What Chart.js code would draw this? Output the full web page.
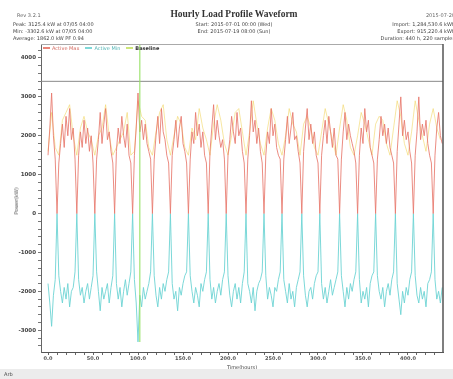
<!DOCTYPE html>
<html>
<head>
<meta charset="utf-8">
<script src="https://cdn.jsdelivr.net/npm/chart.js@4.4.1/dist/chart.umd.min.js"></script>
<style>
  html, body { margin: 0; padding: 0; background: #fff; }
  #wrap { position: relative; width: 453px; height: 379px; overflow: hidden; font-family: "DejaVu Sans", sans-serif; color: #333; }
  #c { position: absolute; left: 0; top: 0; }
  .t { position: absolute; white-space: nowrap; font-size: 5px; line-height: 6px; color: #444; }
  .l { left: 13px; }
  .r { right: -2px; text-align: right; }
  .m { left: 0; width: 468px; text-align: center; }
  #title { font-family: "Liberation Serif", serif; font-weight: bold; font-size: 9.5px; line-height: 10px; color: #333; }
  #legend { position: absolute; left: 41px; top: 44px; height: 7px; display: flex; align-items: center; font-size: 5px; line-height: 6px; }
  #legend span.sw { display: inline-block; width: 7px; height: 2px; margin: 0 2px 0 2px; vertical-align: middle; }
  #legend .it { margin-right: 4px; }
  #status { position: absolute; left: 0; top: 369px; width: 453px; height: 10px; background: #ececec; }
  #status .t { left: 4px; top: 2px; }
</style>
</head>
<body>
<div id="wrap">
  <canvas id="c" width="453" height="379"></canvas>

  <div class="t" style="left:17px; top:12px; color:#666;">Rev 3.2.1</div>
  <div class="t l" style="top:21px;">Peak: 3125.4 kW at 07/05 04:00</div>
  <div class="t l" style="top:28px;">Min: -3302.6 kW at 07/05 04:00</div>
  <div class="t l" style="top:35px;">Average: 1862.0 kW  PF 0.94</div>

  <div class="t m" id="title" style="top:9px;">Hourly Load Profile Waveform</div>
  <div class="t m" style="top:21px;">Start: 2015-07-01 00:00 (Wed)</div>
  <div class="t m" style="top:28px;">End: 2015-07-19 08:00 (Sun)</div>

  <div class="t r" style="top:12px; color:#666;">2015-07-20</div>
  <div class="t r" style="top:21px;">Import: 1,284,530.6 kWh</div>
  <div class="t r" style="top:28px;">Export: 915,220.4 kWh</div>
  <div class="t r" style="top:35px;">Duration: 440 h, 220 samples</div>

  <div id="legend">
    <div class="it" style="color:#d46a60;"><span class="sw" style="background:#ea8478;"></span>Active Max</div>
    <div class="it" style="color:#4fb3b3;"><span class="sw" style="background:#7fd8d8;"></span>Active Min</div>
    <div class="it" style="color:#333; font-weight:bold;"><span class="sw" style="background:#cde67a;"></span>Baseline</div>
  </div>

  <div class="t" style="top:201px; transform: translate(-50%,-50%) rotate(-90deg); transform-origin: center; left:16px;">Power(kW)</div>
  <div class="t" style="left:242px; top:364px; transform: translateX(-50%);">Time(hours)</div>

  <div id="status"><div class="t">Arb</div></div>
</div>

<script>
// Sampling interval of the load record, in hours
const sampleStep = 2;

// Axis tick values
const yTickValues = [4000, 3000, 2000, 1000, 0, -1000, -2000, -3000];
const xTickValues = [0, 50, 100, 150, 200, 250, 300, 350, 400];

// Maximum active power per sample (kW)
const activeMax = [
  1500, 2200, 3100, 2000, 1400, 0,
  1300, 1800, 2300, 1700, 2500, 2000, 2700, 1900, 2200, 1400, 0,
  1500, 2100, 1700, 2400, 1800, 2200, 1600, 2000, 1300, 0,
  1400, 1900, 2600, 1800, 2300, 2700, 1900, 2100, 1600, 1300, 0,
  1600, 2200, 1800, 2500, 2000, 1700, 2300, 1500, 1300, 0,
  1500, 2200, 3100, 2100, 2400, 1900, 2300, 1800, 1600, 1400, 0,
  1400, 2000, 2500, 1800, 2700, 2100, 1900, 1500, 1300, 0,
  1500, 1900, 2400, 1700, 2200, 2500, 1800, 1600, 1300, 0,
  1400, 2100, 1800, 2600, 2000, 2300, 1700, 2100, 1500, 1300, 0,
  1600, 2200, 2800, 1900, 2400, 2000, 1700, 1900, 1400, 0,
  1500, 1900, 2500, 2100, 1800, 2600, 2000, 2200, 1600, 1300, 0,
  1400, 2000, 2900, 2100, 2400, 1800, 2200, 1600, 1300, 0,
  1500, 2100, 1800, 2700, 2000, 2300, 1700, 1500, 1400, 0,
  1400, 1900, 2500, 1800, 2200, 2600, 1900, 2000, 1600, 1300, 0,
  1600, 2200, 2700, 1900, 2300, 1800, 2100, 1500, 1300, 0,
  1500, 2000, 2400, 1800, 2500, 2100, 1700, 2200, 1500, 1400, 0,
  1400, 2100, 2600, 1900, 2300, 2000, 1800, 1600, 1300, 0,
  1500, 2200, 1800, 2700, 2100, 2400, 1700, 1500, 1300, 0,
  1400, 1900, 2500, 2000, 2300, 1800, 2200, 1700, 1500, 1300, 0,
  1600, 2300, 3000, 2000, 2400, 1900, 2100, 1600, 1300, 0,
  1500, 2100, 3000, 1900, 2300, 2000, 2400, 1800, 1500, 1300, 0,
  1500, 2200, 2600, 2000, 1800
];

// Minimum active power per sample (kW)
const activeMin = [
  -1800, -2300, -2900, -2100, -1700, 0,
  -1600, -2000, -2300, -1900, -2200, -1800, -2400, -2000, -1900, -1500, 0,
  -1700, -2100, -1900, -2300, -2000, -1800, -2200, -1900, -1600, 0,
  -1500, -2000, -2500, -1900, -2200, -2000, -1800, -2300, -1900, -1600, 0,
  -1800, -2200, -1900, -2400, -2000, -1700, -2100, -1800, -1500, 0,
  -1700, -2300, -3300, -2100, -2400, -1900, -2200, -2000, -1800, -1500, 0,
  -1600, -2100, -2400, -1900, -2200, -1800, -2000, -1700, -1500, 0,
  -1800, -2200, -2000, -2500, -1900, -2100, -1800, -1600, -1500, 0,
  -1600, -2000, -2300, -1900, -2100, -2400, -1800, -2000, -1700, -1500, 0,
  -1700, -2200, -1900, -2300, -2000, -1800, -2100, -1700, -1500, 0,
  -1600, -2100, -2400, -2000, -1800, -2200, -1900, -2300, -1800, -1500, 0,
  -1800, -2000, -2300, -1900, -2500, -2000, -1800, -1700, -1500, 0,
  -1600, -2200, -1900, -2100, -2400, -1900, -2000, -1700, -1500, 0,
  -1700, -2000, -2300, -1800, -2200, -2000, -2400, -1900, -1700, -1500, 0,
  -1600, -2100, -2400, -2000, -1900, -2200, -1800, -1600, -1500, 0,
  -1800, -2200, -1900, -2300, -2000, -1700, -2100, -1900, -1700, -1500, 0,
  -1600, -2000, -2400, -1900, -2200, -1800, -2000, -1700, -1500, 0,
  -1700, -2300, -2000, -2200, -1900, -2400, -1800, -1600, -1500, 0,
  -1600, -2000, -2200, -1900, -2400, -2000, -1800, -2100, -1700, -1500, 0,
  -1800, -2200, -2600, -2000, -2300, -1900, -2100, -1700, -1500, 0,
  -1600, -2100, -2300, -1900, -2200, -2000, -2400, -1800, -1700, -1500, 0,
  -1700, -2200, -2000, -2300, -1900
];

// Weekday baseline, sampled every 4 hours (kW)
const baseline = [
  1600, 2600, 1700, 1500, 2400, 2600, 2800, 2000, 1500, 2200,
  2500, 2100, 1900, 1500, 2000, 2200, 2800, 2000, 1500, 1700,
  1900, 2100, 2600, 1500, 1600, 2900, 2500, 2400, 1700, 1500,
  2100, 2600, 2800, 1900, 1500, 2000, 2500, 2300, 1700, 1500,
  2200, 1900, 2700, 2200, 1900, 1500, 2300, 2800, 2400, 1800,
  1500, 2000, 2600, 2700, 2100, 1500, 2100, 2900, 2300, 1800,
  1500, 2200, 2700, 2400, 1800, 1500, 2000, 2700, 2300, 2100,
  1500, 2300, 2500, 2200, 1700, 1500, 2100, 2700, 2300, 1900,
  1500, 2200, 2800, 2400, 1700, 1500, 2000, 2600, 2300, 1900,
  1500, 2300, 2500, 2400, 1800, 1500, 2200, 2900, 2500, 1800,
  1500, 2100, 2900, 2400, 2000, 1600, 2300, 2700, 2200, 1900
];
const baselineStep = 4;

// Contract limit and the marked event hour
const limitLevel = 3400;
const eventHour = [102, 102];
const eventRange = [4350, -3300];

const xRange = [-7.8, 438.9];
const yRange = [-3560, 4360];

const pts = (vals, step) => vals.map((v, i) => ({ x: i * step, y: v }));
const near = (list, v) => list.find(t => Math.abs(t - v) < 1e-6);
const onStep = (v, step) => Math.abs(v / step - Math.round(v / step)) < 1e-6;

const frame = {
  id: 'frame',
  afterDraw(chart) {
    const { ctx, chartArea: a } = chart;
    ctx.save();
    ctx.strokeStyle = '#aaa';
    ctx.lineWidth = 1;
    ctx.beginPath();
    ctx.moveTo(a.left, a.top + 0.5);
    ctx.lineTo(a.right, a.top + 0.5);
    ctx.stroke();
    ctx.strokeStyle = '#555';
    ctx.lineWidth = 1.5;
    ctx.beginPath();
    ctx.moveTo(a.right, a.top);
    ctx.lineTo(a.right, a.bottom);
    ctx.stroke();
    ctx.restore();
  }
};

new Chart(document.getElementById('c'), {
  type: 'line',
  data: {
    datasets: [
      { data: [{ x: eventHour[0], y: eventRange[0] }, { x: eventHour[1], y: eventRange[1] }],
        borderColor: 'rgba(150,225,100,0.9)', borderWidth: 1.2 },
      { data: [{ x: xRange[0], y: limitLevel }, { x: xRange[1], y: limitLevel }],
        borderColor: '#8a8a8a', borderWidth: 1 },
      { data: pts(activeMax, sampleStep), borderColor: 'rgba(232,120,108,0.85)', borderWidth: 1 },
      { data: pts(activeMin, sampleStep), borderColor: 'rgba(110,212,212,0.9)', borderWidth: 1 },
      { data: pts(baseline, baselineStep), borderColor: 'rgba(242,214,100,0.6)', borderWidth: 1 }
    ]
  },
  options: {
    responsive: false,
    animation: false,
    devicePixelRatio: 1,
    elements: { point: { radius: 0 }, line: { tension: 0 } },
    layout: { padding: { left: 0, top: 44, right: 10, bottom: 0 } },
    plugins: { legend: { display: false }, tooltip: { enabled: false } },
    scales: {
      x: {
        type: 'linear', min: xRange[0], max: xRange[1],
        afterFit(s) { s.height = 27; },
        afterBuildTicks(s) {
          s.ticks = s.ticks.filter(t => onStep(t.value, 10) && t.value >= xRange[0] && t.value <= xRange[1]);
        },
        ticks: {
          stepSize: 10, includeBounds: false, autoSkip: false, maxRotation: 0, padding: 1,
          font: { size: 5, family: 'DejaVu Sans', weight: 'bold' }, color: '#555',
          callback: v => { const m = near(xTickValues, v); return m !== undefined ? m.toFixed(1) : ''; }
        },
        grid: { drawOnChartArea: false, drawTicks: true, tickLength: 3, color: '#666' },
        border: { display: true, color: '#555', width: 1 }
      },
      y: {
        type: 'linear', min: yRange[0], max: yRange[1],
        afterFit(s) { s.width = 41; },
        afterBuildTicks(s) {
          s.ticks = s.ticks.filter(t => onStep(t.value, 200) && t.value >= yRange[0] && t.value <= yRange[1]);
        },
        ticks: {
          stepSize: 200, includeBounds: false, autoSkip: false, padding: 2,
          font: { size: 5.5, family: 'DejaVu Sans', weight: 'bold' }, color: '#444',
          callback: v => { const m = near(yTickValues, v); return m !== undefined ? String(m) : ''; }
        },
        grid: { drawOnChartArea: false, drawTicks: true, tickLength: 3, color: '#777' },
        border: { display: true, color: '#666', width: 1 }
      }
    }
  },
  plugins: [frame]
});
</script>
</body>
</html>
